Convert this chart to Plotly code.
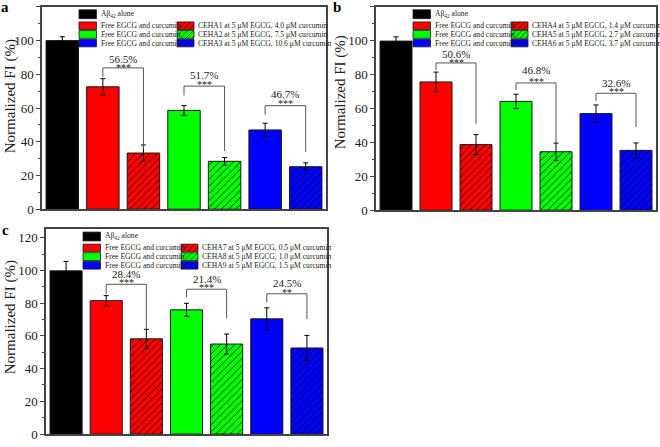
import plotly.graph_objects as go

# bar order: Abeta alone, then (free, CEHA) pairs for red / green / blue
bar_colors = ["#000000", "#ff0000", "#ff0000", "#00ff00", "#00ff00", "#0000ff", "#0000ff"]
hatch = ["", "", "/", "", "/", "", "/"]
bracket_pairs = [(1, 2), (3, 4), (5, 6)]

a_values = [100.0, 72.6, 33.3, 58.6, 28.4, 47.0, 25.2]
a_errors = [2.3, 4.8, 4.8, 2.9, 2.2, 4.0, 2.3]
a_bracket_top = [83.8, 73.0, 61.4]
a_bracket_left = [78.5, 67.5, 56.0]
a_bracket_right = [36.0, 34.5, 34.0]
a_pct = ["56.5%", "51.7%", "46.7%"]
a_pct_y = [89.0, 79.7, 68.3]
a_stars = ["***", "***", "***"]
a_star_y = [85.2, 75.0, 63.9]
a_ceha = ["CEHA1 at 5 μM EGCG, 4.0 μM curcumin",
          "CEHA2 at 5 μM EGCG, 7.5 μM curcumin",
          "CEHA3 at 5 μM EGCG, 10.6 μM curcumin"]

b_values = [99.8, 75.7, 38.7, 64.2, 34.5, 57.0, 35.3]
b_errors = [2.5, 5.8, 5.9, 4.2, 5.1, 5.1, 4.4]
b_bracket_top = [86.9, 75.1, 69.0]
b_bracket_left = [82.5, 70.9, 64.5]
b_bracket_right = [51.0, 39.5, 49.0]
b_pct = ["50.6%", "46.8%", "32.6%"]
b_pct_y = [92.0, 82.5, 75.3]
b_stars = ["***", "***", "***"]
b_star_y = [88.2, 77.0, 71.3]
b_ceha = ["CEHA4 at 5 μM EGCG, 1.4 μM curcumin",
          "CEHA5 at 5 μM EGCG, 2.7 μM curcumin",
          "CEHA6 at 5 μM EGCG, 3.7 μM curcumin"]

c_values = [99.7, 81.5, 58.2, 75.9, 55.0, 70.4, 52.6]
c_errors = [5.8, 3.1, 5.8, 4.0, 6.1, 6.7, 7.7]
c_bracket_top = [91.5, 88.5, 85.7]
c_bracket_left = [85.5, 83.7, 80.5]
c_bracket_right = [64.0, 70.8, 70.2]
c_pct = ["28.4%", "21.4%", "24.5%"]
c_pct_y = [97.5, 94.5, 92.5]
c_stars = ["***", "***", "**"]
c_star_y = [93.7, 90.5, 88.0]
c_ceha = ["CEHA7 at 5 μM EGCG, 0.5 μM curcumin",
          "CEHA8 at 5 μM EGCG, 1.0 μM curcumin",
          "CEHA9 at 5 μM EGCG, 1.5 μM curcumin"]

free_label = "Free EGCG and curcumin"
alone_label = "Aβ<sub>42</sub> alone"

W, H = 660, 447
FONT = "Liberation Serif"
INK = "#222222"

panels = [
    dict(letter="a", box=(42, 7, 326, 213), ymax=120, values=a_values, errors=a_errors,
         top=a_bracket_top, left=a_bracket_left, right=a_bracket_right,
         pct=a_pct, pct_y=a_pct_y, stars=a_stars, star_y=a_star_y, ceha=a_ceha,
         title_xy=(10, 98), letter_xy=(5, 7)),
    dict(letter="b", box=(376, 7, 656, 214), ymax=120, values=b_values, errors=b_errors,
         top=b_bracket_top, left=b_bracket_left, right=b_bracket_right,
         pct=b_pct, pct_y=b_pct_y, stars=b_stars, star_y=b_star_y, ceha=b_ceha,
         title_xy=(340, 94), letter_xy=(337, 7)),
    dict(letter="c", box=(46, 233.3, 327, 442), ymax=125.2, values=c_values, errors=c_errors,
         top=c_bracket_top, left=c_bracket_left, right=c_bracket_right,
         pct=c_pct, pct_y=c_pct_y, stars=c_stars, star_y=c_star_y, ceha=c_ceha,
         title_xy=(10, 323), letter_xy=(5, 234)),
]

# legend grid, in pixels from the panel's top-left corner
col_x = [(37, 54.5), (135, 152)]
row_y = [(3, 12), (15.3, 23), (24, 32), (33, 40.7)]


def pattern_for(shape, color, size):
    # scalar colours only, so plotly keeps the black hatch on the coloured fill
    if not shape:
        return dict(shape="")
    return dict(shape=shape, fgcolor="#000000", bgcolor=color, fgopacity=1,
                size=size, solidity=0.15)


fig = go.Figure()
layout = {}

for i, p in enumerate(panels):
    sx = "" if i == 0 else str(i + 1)
    xr, yr = "x" + sx, "y" + sx
    ln = str(i + 4)
    lx, ly = "x" + ln, "y" + ln
    x0, y0, x1, y1 = p["box"]

    for j in range(7):
        fig.add_trace(go.Bar(
            x=[j], y=[p["values"][j]], width=0.8,
            marker=dict(color=bar_colors[j], line=dict(color="#1a1a1a", width=1),
                        pattern=pattern_for(hatch[j], bar_colors[j], 5)),
            error_y=dict(type="data", array=[p["errors"][j]], color="#000000", thickness=1, width=2.5),
            xaxis=xr, yaxis=yr, showlegend=False))

    for k, (l, r) in enumerate(bracket_pairs):
        fig.add_trace(go.Scatter(
            x=[l, l, r, r], y=[p["left"][k], p["top"][k], p["top"][k], p["right"][k]],
            mode="lines", line=dict(color="#555555", width=1),
            xaxis=xr, yaxis=yr, showlegend=False, hoverinfo="skip"))
        fig.add_annotation(x=(l + r) / 2, y=p["pct_y"][k], xref=xr, yref=yr, text=p["pct"][k],
                           showarrow=False, font=dict(family=FONT, size=11, color=INK))
        fig.add_annotation(x=(l + r) / 2, y=p["star_y"][k], xref=xr, yref=yr, text=p["stars"][k],
                           showarrow=False, yshift=-2, font=dict(family=FONT, size=10, color=INK))

    # hand-built legend on an overlay axis measured in pixels
    entries = [(0, 0, bar_colors[0], "", alone_label)]
    for k in range(3):
        entries.append((0, k + 1, bar_colors[2 * k + 1], "", free_label))
    for k in range(3):
        entries.append((1, k + 1, bar_colors[2 * k + 2], "/", p["ceha"][k]))
    for c, r, color, shape, txt in entries:
        fig.add_trace(go.Bar(
            x=[(col_x[c][0] + col_x[c][1]) / 2], width=[col_x[c][1] - col_x[c][0]],
            base=[row_y[r][0]], y=[row_y[r][1] - row_y[r][0]],
            marker=dict(color=color, line=dict(color="#1a1a1a", width=0.8),
                        pattern=pattern_for(shape, color, 4)),
            xaxis=lx, yaxis=ly, showlegend=False, hoverinfo="skip"))
        fig.add_annotation(x=col_x[c][1] + 2, y=(row_y[r][0] + row_y[r][1]) / 2, xref=lx, yref=ly,
                           text=txt, showarrow=False, xanchor="left", yanchor="middle",
                           font=dict(family=FONT, size=7.6, color=INK))

    dom_x = [x0 / W, x1 / W]
    dom_y = [1 - y1 / H, 1 - y0 / H]
    layout["xaxis" + sx] = dict(domain=dom_x, range=[-0.5, 6.5], showticklabels=False, ticks="",
                                showgrid=False, zeroline=False, showline=True, mirror=True,
                                linecolor="#444444", linewidth=1.5, anchor=yr, fixedrange=True)
    layout["yaxis" + sx] = dict(domain=dom_y, range=[0, p["ymax"]], dtick=20, tick0=0,
                                ticks="outside", ticklen=4, tickcolor="#444444",
                                minor=dict(ticks="outside", ticklen=2.5, dtick=10, tickcolor="#444444"),
                                showgrid=False, zeroline=False, showline=True, mirror=True,
                                linecolor="#444444", linewidth=1.5, anchor=xr,
                                tickfont=dict(family=FONT, size=13, color=INK), fixedrange=True)
    layout["xaxis" + ln] = dict(overlaying=xr, range=[0, x1 - x0], visible=False, anchor=ly,
                                fixedrange=True)
    layout["yaxis" + ln] = dict(overlaying=yr, range=[y1 - y0, 0], visible=False, anchor=lx,
                                fixedrange=True)

    tx, ty = p["title_xy"]
    fig.add_annotation(x=tx / W, y=1 - ty / H, xref="paper", yref="paper", text="Normalized FI (%)",
                       textangle=-90, showarrow=False, xanchor="center", yanchor="middle",
                       font=dict(family=FONT, size=15, color=INK))
    lx0, ly0 = p["letter_xy"]
    fig.add_annotation(x=lx0 / W, y=1 - ly0 / H, xref="paper", yref="paper",
                       text="<b>" + p["letter"] + "</b>", showarrow=False,
                       xanchor="center", yanchor="middle",
                       font=dict(family=FONT, size=15, color="#000000"))

fig.update_layout(
    width=W, height=H, margin=dict(l=0, r=0, t=0, b=0),
    paper_bgcolor="white", plot_bgcolor="white", barmode="overlay",
    font=dict(family=FONT, color=INK), **layout)

fig.write_html("out.html", config={"displayModeBar": False},
               post_script="document.body.style.margin='0';")
